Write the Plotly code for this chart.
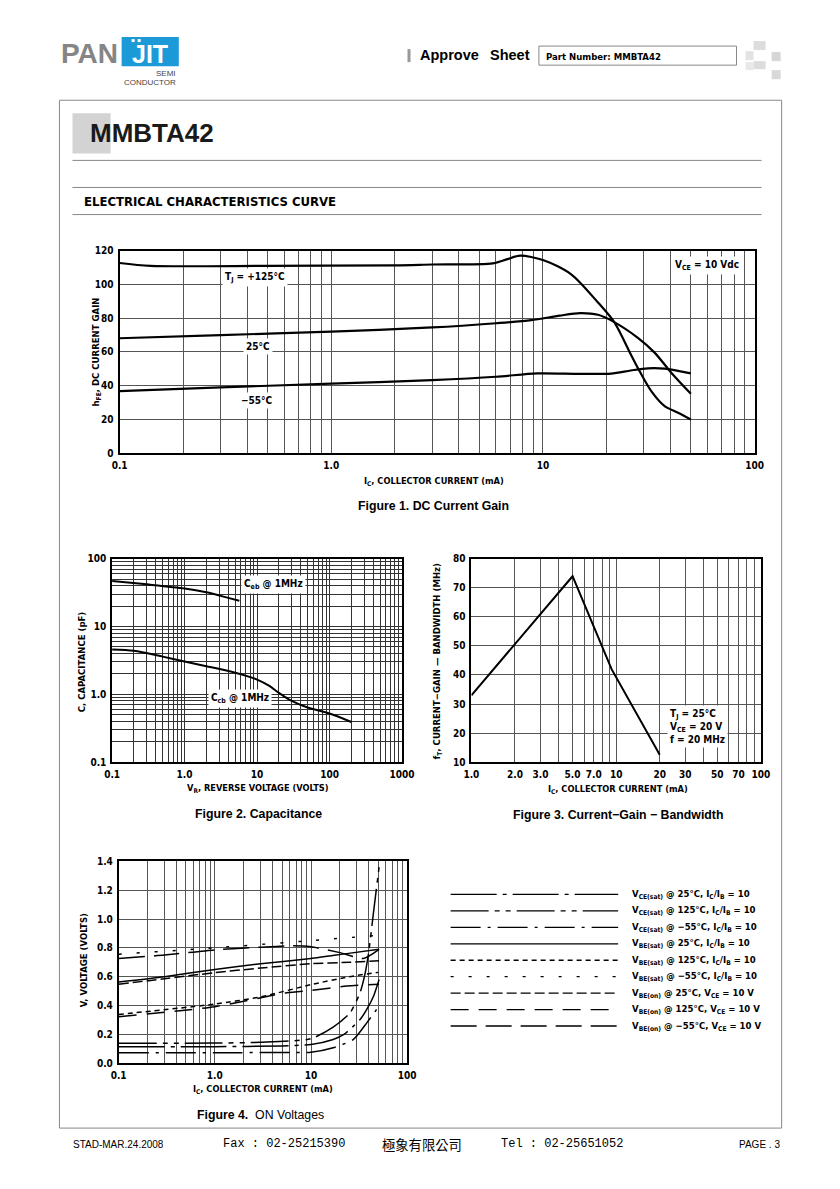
import math
import plotly.graph_objects as go

W, H = 840, 1189
# measured page-to-picture mapping of the viewer (picture = S * figure_px + O)
SX, OX = 0.972, 16.7
SY, OY = 0.988, 14.0
NARROW = "DejaVu Sans Condensed, Liberation Sans Narrow, sans-serif"
SANS = "Liberation Sans, Arial, sans-serif"

# ---------------- data ----------------
# Figure 1: DC current gain
fig1_ic_125 = [0.1, 0.14, 0.5, 2.0, 3.0, 5.8, 6.8, 7.8, 10, 13.6, 18.2, 21.8, 26, 28.6, 32.5, 37.6, 43.5, 50]
fig1_h_125 = [112.7, 111, 111, 111.3, 111.8, 112.5, 115, 117, 114.5, 106, 89.3, 77.4, 58.6, 48.7, 36.8, 27.9, 24, 20]
fig1_ic_25 = [0.1, 0.3, 1, 3, 6, 8.8, 12, 15, 18.2, 21.2, 28, 33.7, 40.4, 50]
fig1_h_25 = [68.1, 70, 72, 74.5, 77, 78.8, 81.5, 83, 82, 78.4, 68.5, 59.6, 47.7, 35.2]
fig1_ic_m55 = [0.1, 0.3, 1, 3, 6, 9.4, 15, 21, 26, 31.3, 37.6, 50]
fig1_h_m55 = [36.8, 39, 41.2, 43.3, 45.3, 47.3, 47, 47.2, 49, 50.3, 50.1, 47.3]
fig1_x_ticks = [0.1, 1, 10, 100]
fig1_x_labels = ["0.1", "1.0", "10", "100"]
fig1_y_ticks = [0, 20, 40, 60, 80, 100, 120]

# Figure 2: capacitance
fig2_vr_ceb = [0.1, 0.3, 1, 2, 4, 5.7]
fig2_c_ceb = [47, 42, 36.5, 32, 26.5, 24]
fig2_vr_ccb = [0.1, 0.2, 0.5, 1, 2, 5, 10, 15, 20, 30, 50, 100, 200]
fig2_c_ccb = [4.6, 4.4, 3.6, 3.05, 2.6, 2.08, 1.65, 1.32, 1.05, 0.8, 0.64, 0.52, 0.39]
fig2_x_ticks = [0.1, 1, 10, 100, 1000]
fig2_x_labels = ["0.1", "1.0", "10", "100", "1000"]
fig2_y_ticks = [0.1, 1, 10, 100]
fig2_y_labels = ["0.1", "1.0", "10", "100"]

# Figure 3: current-gain bandwidth
fig3_ic = [1.0, 5.0, 9.3, 20]
fig3_ft = [33, 74, 42, 12.5]
fig3_x_ticks = [1, 2, 3, 5, 7, 10, 20, 30, 50, 70, 100]
fig3_x_labels = ["1.0", "2.0", "3.0", "5.0", "7.0", "10", "20", "30", "50", "70", "100"]
fig3_y_ticks = [10, 20, 30, 40, 50, 60, 70, 80]

# Figure 4: ON voltages (legend order)
fig4_labels = [
    "V<sub>CE(sat)</sub> @ 25°C, I<sub>C</sub>/I<sub>B</sub> = 10",
    "V<sub>CE(sat)</sub> @ 125°C, I<sub>C</sub>/I<sub>B</sub> = 10",
    "V<sub>CE(sat)</sub> @ −55°C, I<sub>C</sub>/I<sub>B</sub> = 10",
    "V<sub>BE(sat)</sub> @ 25°C, I<sub>C</sub>/I<sub>B</sub> = 10",
    "V<sub>BE(sat)</sub> @ 125°C, I<sub>C</sub>/I<sub>B</sub> = 10",
    "V<sub>BE(sat)</sub> @ −55°C, I<sub>C</sub>/I<sub>B</sub> = 10",
    "V<sub>BE(on)</sub> @ 25°C, V<sub>CE</sub> = 10 V",
    "V<sub>BE(on)</sub> @ 125°C, V<sub>CE</sub> = 10 V",
    "V<sub>BE(on)</sub> @ −55°C, V<sub>CE</sub> = 10 V",
]
fig4_ic = [
    [0.1, 1, 5, 10, 17, 22, 27.6, 33, 38, 45, 51],
    [0.1, 1, 3, 10, 17, 25.5, 32.4, 36.7, 39.8, 44.7, 51],
    [0.1, 1, 5, 10, 17, 27.6, 38, 51],
    [0.1, 0.3, 1, 3, 10, 23.5, 51],
    [0.1, 1, 3, 10, 25, 50],
    [0.1, 1, 10, 45],
    [0.1, 1, 3, 10, 25, 51],
    [0.1, 1, 5.6, 10, 23.5, 51],
    [0.1, 0.3, 1, 3, 6.5, 10, 20, 35, 51],
]
fig4_v = [
    [0.114, 0.115, 0.12, 0.13, 0.165, 0.2, 0.257, 0.31, 0.373, 0.47, 0.58],
    [0.139, 0.14, 0.145, 0.17, 0.25, 0.35, 0.49, 0.63, 0.77, 1.05, 1.36],
    [0.072, 0.073, 0.074, 0.076, 0.107, 0.165, 0.28, 0.396],
    [0.563, 0.60, 0.65, 0.69, 0.726, 0.76, 0.79],
    [0.338, 0.41, 0.46, 0.545, 0.60, 0.63],
    [0.756, 0.80, 0.85, 0.885],
    [0.547, 0.628, 0.66, 0.69, 0.70, 0.71],
    [0.322, 0.392, 0.489, 0.505, 0.535, 0.547],
    [0.726, 0.75, 0.786, 0.805, 0.814, 0.807, 0.767, 0.726, 0.79],
]
fig4_dash = [
    "46px,6px,4px,6px",
    "38px,6px,5px,6px,5px,6px",
    "30px,7px,3px,7px",
    "solid",
    "5px,4px",
    "3px,15px",
    "10px,4px",
    "18px,10px",
    "26px,9px",
]
fig4_x_ticks = [0.1, 1, 10, 100]
fig4_x_labels = ["0.1", "1.0", "10", "100"]
fig4_y_ticks = [0.0, 0.2, 0.4, 0.6, 0.8, 1.0, 1.2, 1.4]


# ---------------- helpers ----------------
def X(px):
    return ((px - OX) / SX) / W


def Y(py):
    return 1 - ((py - OY) / SY) / H


def log_grid(lo, hi):
    vals = []
    for e in range(lo, hi):
        for m in range(1, 10):
            vals.append(round(m * 10 ** e, 6))
    vals.append(10 ** hi)
    return vals


TICKFONT = dict(family=NARROW, size=10, color="black", weight="bold")


def axis_common(grid="#555", gw=1, minor_vals=None, **kw):
    d = dict(showgrid=True, gridcolor=grid, gridwidth=gw, zeroline=False,
             showline=True, linecolor="black", linewidth=1.5, mirror=True,
             ticks="", tickfont=TICKFONT, fixedrange=True, ticklabelstandoff=2)
    if minor_vals is not None:
        d["minor"] = dict(tickvals=minor_vals, showgrid=True, gridcolor=grid, gridwidth=gw, ticks="")
    d.update(kw)
    return d


fig = go.Figure()

# Figure 1 traces
for xs, ys in [(fig1_ic_125, fig1_h_125), (fig1_ic_25, fig1_h_25), (fig1_ic_m55, fig1_h_m55)]:
    fig.add_trace(go.Scatter(x=xs, y=ys, mode="lines", line=dict(color="black", width=2.2, shape="spline", smoothing=0.8),
                             xaxis="x", yaxis="y", hoverinfo="skip"))
# Figure 2 traces
for xs, ys in [(fig2_vr_ceb, fig2_c_ceb), (fig2_vr_ccb, fig2_c_ccb)]:
    fig.add_trace(go.Scatter(x=xs, y=ys, mode="lines", line=dict(color="black", width=2, shape="spline", smoothing=0.8),
                             xaxis="x2", yaxis="y2", hoverinfo="skip"))
# Figure 3 trace
fig.add_trace(go.Scatter(x=fig3_ic, y=fig3_ft, mode="lines", line=dict(color="black", width=2),
                         xaxis="x3", yaxis="y3", hoverinfo="skip"))
# Figure 4 traces
for xs, ys, dsh in zip(fig4_ic, fig4_v, fig4_dash):
    fig.add_trace(go.Scatter(x=xs, y=ys, mode="lines",
                             line=dict(color="black", width=1.5, dash=dsh, shape="spline", smoothing=0.6),
                             xaxis="x4", yaxis="y4", hoverinfo="skip"))

# pixel boxes of the plot areas (picture pixels)
B1 = (120, 753, 250, 452)
B2 = (112.5, 401.5, 557.3, 760)
B3 = (470.7, 759.3, 557.3, 760)
B4 = (119, 406.7, 859, 1060.3)


def dom(b):
    return [X(b[0]), X(b[1])], [Y(b[3]), Y(b[2])]


d1x, d1y = dom(B1)
d2x, d2y = dom(B2)
d3x, d3y = dom(B3)
d4x, d4y = dom(B4)

fig.update_layout(
    width=W, height=H, margin=dict(l=0, r=0, t=0, b=0), autosize=False,
    paper_bgcolor="white", plot_bgcolor="white", showlegend=False,
    xaxis=axis_common(type="log", range=[-1, 2], domain=d1x, anchor="y", minor_vals=log_grid(-1, 2),
                      tickvals=fig1_x_ticks, ticktext=fig1_x_labels, linewidth=2),
    yaxis=axis_common(range=[0, 120], domain=d1y, anchor="x", tickvals=fig1_y_ticks, linewidth=2),
    xaxis2=axis_common(grid="#333", gw=0.8, type="log", range=[-1, 3], domain=d2x, anchor="y2",
                       minor_vals=log_grid(-1, 3), tickvals=fig2_x_ticks, ticktext=fig2_x_labels),
    yaxis2=axis_common(grid="#333", gw=0.8, type="log", range=[-1, 2], domain=d2y, anchor="x2",
                       minor_vals=log_grid(-1, 2), tickvals=fig2_y_ticks, ticktext=fig2_y_labels),
    xaxis3=axis_common(type="log", range=[0, 2], domain=d3x, anchor="y3", minor_vals=log_grid(0, 2),
                       tickvals=fig3_x_ticks, ticktext=fig3_x_labels),
    yaxis3=axis_common(range=[10, 80], domain=d3y, anchor="x3", tickvals=fig3_y_ticks),
    xaxis4=axis_common(type="log", range=[-1, 2], domain=d4x, anchor="y4", minor_vals=log_grid(-1, 2),
                       tickvals=fig4_x_ticks, ticktext=fig4_x_labels),
    yaxis4=axis_common(range=[0, 1.4], domain=d4y, anchor="x4", tickvals=fig4_y_ticks, tickformat=".1f"),
)

shapes = []
ann = []


def text(px, py, s, size=10, family=NARROW, weight="bold", color="black", xanchor="center",
         yanchor="middle", angle=0, align="center"):
    ann.append(dict(x=X(px), y=Y(py), xref="paper", yref="paper", text=s, showarrow=False,
                    xanchor=xanchor, yanchor=yanchor, textangle=angle, align=align,
                    font=dict(family=family, size=size, color=color, weight=weight)))


def rect(x0, y0, x1, y1, fill=None, line=None, lw=1):
    shapes.append(dict(type="rect", xref="paper", yref="paper", x0=X(x0), x1=X(x1), y0=Y(y1), y1=Y(y0),
                       fillcolor=fill if fill else "rgba(0,0,0,0)",
                       line=dict(color=line if line else "rgba(0,0,0,0)", width=lw if line else 0), layer="below"))


def hline(x0, x1, y, color="#888", lw=1, dash="solid"):
    shapes.append(dict(type="line", xref="paper", yref="paper", x0=X(x0), x1=X(x1), y0=Y(y), y1=Y(y),
                       line=dict(color=color, width=lw, dash=dash)))


# ---------- header ----------
text(60, 53, "PAN", size=28, family=SANS, color="#858585", xanchor="left")
rect(122, 37, 179, 66, fill="#1c9ad8")
text(150.5, 54, "JIT", size=25, family=SANS, color="white")
rect(132, 39, 135, 42, fill="white")
rect(138, 39, 141, 42, fill="white")
text(178, 73, "SEMI", size=8, family=SANS, color="#444", xanchor="right", weight="normal")
text(178, 82, "CONDUCTOR", size=8, family=SANS, color="#444", xanchor="right", weight="normal")

rect(407, 49, 410, 62, fill="#999")
text(417, 55, "Approve", size=14.5, family=SANS, xanchor="left")
text(487, 55, "Sheet", size=14.5, family=SANS, xanchor="left")
rect(538, 46, 735, 65, line="#888", lw=1)
text(543, 56, "Part Number: MMBTA42", size=9.5, family=NARROW, xanchor="left")
for (a, b, c, d, col) in [(752, 41, 764, 50, "#dddddd"), (744, 51, 752, 60, "#e3e3e3"),
                          (770, 52, 779, 61, "#d6d6d6"), (752, 61, 764, 69, "#dcdcdc"),
                          (744, 62, 752, 70, "#e8e8e8"), (770, 70, 779, 79, "#d8d8d8")]:
    rect(a, b, c, d, fill=col)

# page frame
rect(60, 100, 780, 1125, line="#888", lw=1)
rect(73, 113, 111, 153, fill="#d3d3d3")
text(88, 133, "MMBTA42", size=26, family=SANS, xanchor="left", color="#1a1a1a")
hline(73, 760, 160)
hline(73, 760, 187)
text(82, 201, "ELECTRICAL CHARACTERISTICS CURVE", size=13, family=NARROW, xanchor="left")
hline(73, 760, 214)

# ---------- figure 1 labels ----------
text(97, 351, "h<sub>FE</sub>, DC CURRENT GAIN", size=9.5, angle=-90)
text(433, 480, "I<sub>C</sub>, COLLECTOR CURRENT (mA)", size=9.2)
text(433, 505, "Figure 1. DC Current Gain", size=12.3, family=SANS)


def dann(xref, yref, xv, yv, s, logx=False, logy=False, xanchor="center", align="center", size=10):
    ann.append(dict(x=math.log10(xv) if logx else xv, y=math.log10(yv) if logy else yv,
                    xref=xref, yref=yref, text=s, showarrow=False, bgcolor="white",
                    xanchor=xanchor, align=align, borderpad=2,
                    font=dict(family=NARROW, size=size, color="black", weight="bold")))


dann("x", "y", 0.436, 104, "T<sub>J</sub> = +125°C", logx=True)
dann("x", "y", 0.45, 63.5, "25°C", logx=True)
dann("x", "y", 0.445, 31.5, "−55°C", logx=True)
dann("x", "y", 59.8, 111, "V<sub>CE</sub> = 10 Vdc", logx=True)

# ---------- figure 2 labels ----------
text(82, 660, "C, CAPACITANCE (pF)", size=9.5, angle=-90)
text(258, 786, "V<sub>R</sub>, REVERSE VOLTAGE (VOLTS)", size=9.2)
text(258, 812, "Figure 2. Capacitance", size=12.3, family=SANS)
dann("x2", "y2", 17.1, 41.7, "C<sub>eb</sub> @ 1MHz", logx=True, logy=True)
dann("x2", "y2", 5.79, 0.857, "C<sub>cb</sub> @ 1MHz", logx=True, logy=True)

# ---------- figure 3 labels ----------
text(437, 660, "f<sub>T</sub>, CURRENT−GAIN — BANDWIDTH (MHz)", size=9.5, angle=-90)
text(617, 787, "I<sub>C</sub>, COLLECTOR CURRENT (mA)", size=9.2)
text(617, 813, "Figure 3. Current−Gain − Bandwidth", size=12.3, family=SANS)
dann("x3", "y3", 22.5, 22.4, "T<sub>J</sub> = 25°C<br>V<sub>CE</sub> = 20 V<br>f = 20 MHz",
     logx=True, xanchor="left", align="left", size=10)

# ---------- figure 4 labels ----------
text(84, 958, "V, VOLTAGE (VOLTS)", size=9.5, angle=-90)
text(263, 1087, "I<sub>C</sub>, COLLECTOR CURRENT (mA)", size=9.2)
text(260, 1112, "<b>Figure 4.</b>  ON Voltages", size=12.3, family=SANS, weight="normal")

# legend of figure 4
row_y0, row_dy = 892, 16.4
for i, (lab, dsh) in enumerate(zip(fig4_labels, fig4_dash)):
    yy = row_y0 + i * row_dy
    hline(450, 617, yy, color="black", lw=1.3, dash=dsh)
    text(629, yy, lab, size=9.5, xanchor="left")

# ---------- footer ----------
text(72, 1141, "STAD-MAR.24.2008", size=10, family=SANS, xanchor="left", weight="normal")
text(221, 1141, "Fax : 02-25215390", size=12, family="Liberation Mono, DejaVu Sans Mono, monospace",
     xanchor="left", weight="normal")
text(380, 1141, "極象有限公司", size=13.3, family="Noto Sans CJK TC, Noto Sans CJK SC", xanchor="left", weight="normal")
text(498, 1141, "Tel : 02-25651052", size=12, family="Liberation Mono, DejaVu Sans Mono, monospace",
     xanchor="left", weight="normal")
text(780, 1141, "PAGE . 3", size=10, family=SANS, xanchor="right", weight="normal")

fig.update_layout(shapes=shapes, annotations=ann)
fig.write_html("out.html")
